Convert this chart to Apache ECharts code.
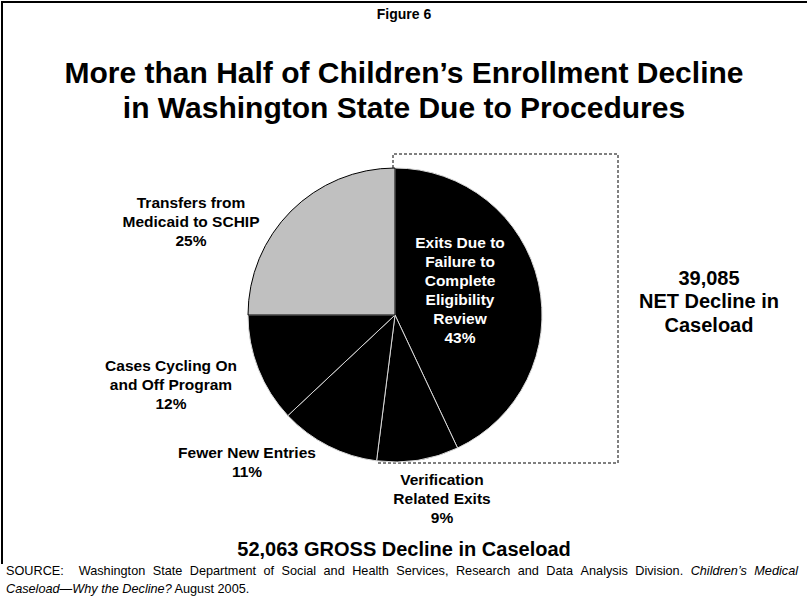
<!DOCTYPE html>
<html>
<head>
<meta charset="utf-8">
<script src="https://cdn.jsdelivr.net/npm/echarts@6/dist/echarts.min.js"></script>
<style>
  html, body { margin: 0; padding: 0; background: #fff; }
  #EnrollmentPie { width: 809px; height: 611px; }
</style>
</head>
<body>
<div id="EnrollmentPie"></div>
<script>
// slices, clockwise from 12 o'clock
const categories = [
  'Exits Due to\nFailure to\nComplete\nEligibility\nReview',
  'Verification\nRelated Exits',
  'Fewer New Entries',
  'Cases Cycling On\nand Off Program',
  'Transfers from\nMedicaid to SCHIP'
];
const shares = [43, 9, 11, 12, 25];
const sliceColors = ['#000000', '#000000', '#000000', '#000000', '#c0c0c0'];
const labelColors = ['#ffffff', '#000000', '#000000', '#000000', '#000000'];
// where each label sits (centre of text block)
const labelAnchors = [[460, 290], [442, 498], [247, 462], [171, 384], [191, 221]];

const FONT = '"Liberation Sans", Arial, Helvetica, sans-serif';

const chartDom = document.getElementById('EnrollmentPie');
const myChart = echarts.init(chartDom, null, { renderer: 'svg' });

const seriesData = categories.map((name, i) => ({
  name: name,
  value: shares[i],
  itemStyle: {
    color: sliceColors[i],
    borderColor: i === 4 ? '#000' : '#d8d8d8',
    borderWidth: 1
  },
  label: { color: labelColors[i] }
}));

// justified first line of the source note
const ctx = document.createElement('canvas').getContext('2d');
const srcWords = ('SOURCE: | Washington State Department of Social and Health Services, Research and Data Analysis Division.').split(' ')
  .map(w => ({ t: w, it: false }))
  .concat([{ t: 'Children\u2019s', it: true }, { t: 'Medical', it: true }]);
const srcLeft = 6, srcRight = 798;
let totalW = 0;
srcWords.forEach(w => {
  if (w.t === '|') { w.w = 0; return; }
  ctx.font = (w.it ? 'italic ' : '') + '12.7px ' + FONT;
  w.w = ctx.measureText(w.t).width;
  totalW += w.w;
});
const gap = (srcRight - srcLeft - totalW) / (srcWords.length - 1);
let cursor = srcLeft;
const srcLine1 = [];
srcWords.forEach(w => {
  if (w.t !== '|') {
    srcLine1.push({
      type: 'text', x: cursor, y: 571,
      style: { text: w.t, font: (w.it ? 'italic ' : '') + '12.7px ' + FONT, fill: '#000', align: 'left', verticalAlign: 'middle' }
    });
  }
  cursor += w.w + gap;
});

const option = {
  animation: false,
  backgroundColor: '#fff',
  series: [{
    type: 'pie',
    center: [395, 315],
    radius: 147,
    startAngle: 90,
    clockwise: true,
    avoidLabelOverlap: false,
    label: {
      show: true,
      position: 'outside',
      formatter: '{b}\n{c}%',
      fontFamily: FONT,
      fontWeight: 'bold',
      fontSize: 15.5,
      lineHeight: 19,
      align: 'center'
    },
    labelLine: { show: false },
    labelLayout: function (params) {
      const p = labelAnchors[params.dataIndex];
      return { x: p[0], y: p[1], align: 'center', verticalAlign: 'middle' };
    },
    emphasis: { disabled: true },
    data: seriesData
  }],
  graphic: [
    // frame
    {
      type: 'polyline',
      shape: { points: [[2, 564], [2, 2], [807, 2]] },
      style: { stroke: '#000', lineWidth: 2, fill: null }
    },
    // dashed bracket around the net decline
    {
      type: 'polyline',
      shape: { points: [[393, 168], [393, 154], [618, 154], [618, 463], [377, 463]] },
      style: { stroke: '#000', lineWidth: 1, lineDash: [3, 2], fill: null }
    },
    {
      type: 'text', x: 404, y: 14,
      style: { text: 'Figure 6', font: 'bold 14px ' + FONT, fill: '#000', align: 'center', verticalAlign: 'middle' }
    },
    {
      type: 'text', x: 404, y: 90,
      style: {
        text: 'More than Half of Children\u2019s Enrollment Decline\nin Washington State Due to Procedures',
        font: 'bold 30px ' + FONT, lineHeight: 35, fill: '#000', align: 'center', verticalAlign: 'middle'
      }
    },
    {
      type: 'text', x: 709, y: 301,
      style: {
        text: '39,085\nNET Decline in\nCaseload',
        font: 'bold 20px ' + FONT, lineHeight: 23.5, fill: '#000', align: 'center', verticalAlign: 'middle'
      }
    },
    {
      type: 'text', x: 404, y: 549,
      style: { text: '52,063 GROSS Decline in Caseload', font: 'bold 20px ' + FONT, fill: '#000', align: 'center', verticalAlign: 'middle' }
    },
    {
      type: 'text', x: 6, y: 589,
      style: {
        text: '{i|Caseload\u2014Why the Decline?} August 2005.',
        font: '12.7px ' + FONT, fill: '#000', align: 'left', verticalAlign: 'middle',
        rich: { i: { fontStyle: 'italic', fontSize: 12.7, fontFamily: FONT } }
      }
    }
  ].concat(srcLine1)
};

option && myChart.setOption(option);
window.addEventListener('resize', myChart.resize);
</script>
</body>
</html>
